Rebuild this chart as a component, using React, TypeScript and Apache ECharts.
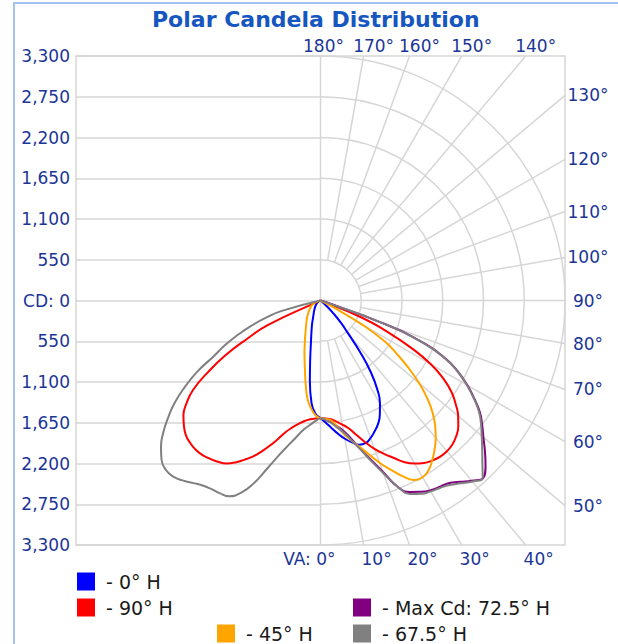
import React, { useEffect, useRef } from 'react';
import * as echarts from 'echarts';

// Vertical angles (degrees from nadir)
const VA = [0, 2.5, 5, 7.5, 10, 12.5, 15, 17.5, 20, 22.5, 25, 27.5, 30, 32.5, 35, 37.5, 40, 42.5, 45, 47.5, 50, 52.5, 55, 57.5, 60, 62.5, 65, 67.5, 70, 72.5, 75, 77.5, 80, 82.5, 85, 87.5, 90];

// Candela values per horizontal plane (right half = H, left half = H + 180)
const H0 = [1590, 1650, 1730, 1815, 1895, 1960, 2015, 2020, 1975, 1910, 1838, 1735, 1605, 1430, 1190, 880, 580, 410, 245, 110, 0, 0, 0, 0, 0, 0, 0, 0, 0, 0, 0, 0, 0, 0, 0, 0, 0];
const H180 = [1590, 1530, 1390, 1100, 800, 600, 480, 395, 330, 270, 230, 200, 178, 158, 140, 125, 112, 100, 90, 80, 70, 62, 55, 48, 40, 34, 28, 22, 16, 10, 5, 0, 0, 0, 0, 0, 0];
const H90 = [1590, 1595, 1610, 1650, 1700, 1770, 1880, 2005, 2130, 2240, 2345, 2460, 2540, 2600, 2635, 2655, 2655, 2635, 2590, 2522, 2425, 2300, 2160, 1970, 1720, 1370, 980, 600, 60, 0, 0, 0, 0, 0, 0, 0, 0];
const H270 = [1590, 1595, 1610, 1640, 1690, 1755, 1845, 1980, 2115, 2250, 2360, 2460, 2540, 2580, 2605, 2625, 2625, 2605, 2570, 2500, 2415, 2280, 2095, 1800, 1490, 1110, 780, 40, 0, 0, 0, 0, 0, 0, 0, 0, 0];
const H72_5 = [1590, 1615, 1650, 1710, 1790, 1910, 2070, 2250, 2460, 2720, 2850, 2910, 2960, 2985, 3010, 3085, 3175, 3250, 3150, 3010, 2870, 2750, 2625, 2460, 2290, 2100, 1870, 1530, 900, 70, 0, 0, 0, 0, 0, 0, 0];
const H45 = [1590, 1600, 1625, 1710, 1830, 1940, 2045, 2180, 2330, 2470, 2615, 2730, 2755, 2715, 2630, 2530, 2420, 2290, 2140, 1955, 1740, 1500, 1260, 1030, 650, 180, 0, 0, 0, 0, 0, 0, 0, 0, 0, 0, 0];
const H225 = [1590, 1550, 1460, 1340, 1150, 970, 830, 720, 620, 545, 480, 430, 390, 355, 325, 300, 275, 250, 230, 212, 195, 180, 165, 155, 145, 125, 105, 85, 65, 45, 28, 12, 0, 0, 0, 0, 0];
const H67_5 = [1590, 1615, 1660, 1730, 1810, 1930, 2080, 2270, 2480, 2720, 2880, 2940, 2975, 3000, 3040, 3110, 3190, 3240, 3090, 2960, 2840, 2730, 2610, 2450, 2280, 2090, 1860, 1510, 880, 60, 0, 0, 0, 0, 0, 0, 0];
const H247_5 = [1590, 1630, 1690, 1760, 1870, 2000, 2160, 2370, 2620, 2810, 2915, 2935, 2940, 2960, 3005, 3060, 3100, 3095, 3035, 2920, 2770, 2590, 2400, 2170, 1920, 1620, 1420, 1200, 990, 770, 540, 0, 0, 0, 0, 0, 0];

// Grid definitions
const R_MAX = 3300;
const RINGS = [550, 1100, 1650, 2200, 2750, 3300];
const SPOKES = [0, 10, 20, 30, 40, 50, 60, 70, 80, 90, 100, 110, 120, 130, 140, 150, 160, 170, 180];

const FONT = 'DejaVu Sans';
const LABEL_COLOR = '#1b3597';
const GRID_COLOR = '#d6d6d6';

function toXY(cd: number, va: number, side: number): number[] {
  const a = (va * Math.PI) / 180;
  return [side * cd * Math.sin(a), -cd * Math.cos(a)];
}

function loop(right: number[], left: number[] | null): number[][] {
  const pts: number[][] = [];
  let lr = right.findIndex((v) => v === 0);
  if (lr < 0) lr = right.length - 1;
  for (let i = lr; i >= 0; i--) pts.push(toXY(right[i], VA[i], 1));
  if (left) {
    let ll = left.findIndex((v) => v === 0);
    if (ll < 0) ll = left.length - 1;
    for (let i = 1; i <= ll; i++) pts.push(toXY(left[i], VA[i], -1));
  }
  return pts;
}

const SERIES = [
  { name: '0° H', color: '#0000ff', right: H0, left: H180 },
  { name: '90° H', color: '#ff0000', right: H90, left: H270 },
  { name: 'Max Cd: 72.5° H', color: '#800080', right: H72_5, left: null },
  { name: '45° H', color: '#ffa500', right: H45, left: H225 },
  { name: '67.5° H', color: '#808080', right: H67_5, left: H247_5 },
];

const LEGEND_POS = [
  { left: 77, top: 572 },
  { left: 77, top: 598 },
  { left: 353, top: 598 },
  { left: 217, top: 624 },
  { left: 353, top: 624 },
];

export default function App() {
  const ref = useRef<HTMLDivElement>(null);
  useEffect(() => {
    if (!ref.current) return;
    const chart = echarts.init(ref.current, undefined, { renderer: 'svg' });

    const spokeSeries: any = {
      type: 'custom',
      xAxisIndex: 0,
      yAxisIndex: 0,
      silent: true,
      z: 1,
      data: SPOKES.map((v) => [v]),
      renderItem: (_p: any, api: any) => {
        const va = api.value(0);
        const a = (va * Math.PI) / 180;
        const dx = Math.sin(a);
        const dy = -Math.cos(a);
        const r0 = va % 90 === 0 ? 0 : RINGS[0];
        const tx = Math.abs(dx) > 1e-9 ? R_MAX / Math.abs(dx) : Infinity;
        const ty = Math.abs(dy) > 1e-9 ? R_MAX / Math.abs(dy) : Infinity;
        const t = Math.min(tx, ty);
        const p0 = api.coord([r0 * dx, r0 * dy]);
        const p1 = api.coord([t * dx, t * dy]);
        let lx = p1[0];
        let ly = p1[1];
        let align = 'center';
        let text = va + '°';
        if (va < 45) {
          ly += 14;
          if (va === 0) {
            text = 'VA: 0°';
            lx += 15;
            align = 'right';
          } else {
            lx += 13;
          }
        } else if (va > 135) {
          ly -= 10;
          lx += va === 180 ? 3 : 10;
        } else {
          lx += 23;
        }
        return {
          type: 'group',
          children: [
            {
              type: 'line',
              shape: { x1: p0[0], y1: p0[1], x2: p1[0], y2: p1[1] },
              style: { stroke: GRID_COLOR, lineWidth: 1.5 },
            },
            {
              type: 'text',
              x: lx,
              y: ly,
              style: {
                text,
                fill: LABEL_COLOR,
                fontSize: 17,
                fontFamily: FONT,
                align,
                verticalAlign: 'middle',
              },
            },
          ],
        };
      },
    };

    const ringSeries: any = {
      type: 'custom',
      xAxisIndex: 0,
      yAxisIndex: 0,
      silent: true,
      z: 1,
      data: RINGS.map((v) => [v]),
      renderItem: (_p: any, api: any) => {
        const r = api.value(0);
        const c = api.coord([0, 0]);
        const rp = api.size([r, 0])[0];
        return {
          type: 'arc',
          shape: { cx: c[0], cy: c[1], r: rp, startAngle: -Math.PI / 2, endAngle: Math.PI / 2, clockwise: true },
          style: { stroke: GRID_COLOR, lineWidth: 1.5, fill: 'none' },
        };
      },
    };

    const lineSeries = SERIES.map((s) => ({
      type: 'line',
      name: s.name,
      xAxisIndex: 0,
      yAxisIndex: 0,
      data: loop(s.right, s.left),
      showSymbol: false,
      smooth: 0.5,
      z: 3,
      lineStyle: { color: s.color, width: 2 },
      itemStyle: { color: s.color },
    }));

    const option: any = {
      animation: false,
      title: {
        text: 'Polar Candela Distribution',
        left: 152,
        top: 8,
        padding: 0,
        textStyle: { fontFamily: FONT, fontSize: 22, fontWeight: 'bold', color: '#1556c0' },
      },
      legend: SERIES.map((s, i) => ({
        data: [s.name],
        left: LEGEND_POS[i].left,
        top: LEGEND_POS[i].top,
        padding: 0,
        icon: 'rect',
        itemWidth: 18,
        itemHeight: 18,
        selectedMode: false,
        formatter: '- {name}',
        textStyle: { fontFamily: FONT, fontSize: 19, color: '#1a1a1a', padding: [0, 0, 0, 6] },
      })),
      graphic: [
        {
          type: 'rect',
          shape: { x: 14, y: 3, width: 640, height: 680 },
          style: { fill: 'none', stroke: '#a3c2f2', lineWidth: 2 },
          silent: true,
        },
      ],
      grid: [
        { left: 76, top: 56, width: 489, height: 489, show: true, borderColor: GRID_COLOR, borderWidth: 1.5, backgroundColor: 'transparent' },
        { left: 76, top: 56, width: 244.5, height: 489, show: false },
      ],
      xAxis: [
        { type: 'value', gridIndex: 0, min: -R_MAX, max: R_MAX, show: false },
        { type: 'value', gridIndex: 1, min: -R_MAX, max: 0, show: false },
      ],
      yAxis: [
        { type: 'value', gridIndex: 0, min: -R_MAX, max: R_MAX, show: false },
        {
          type: 'value',
          gridIndex: 1,
          min: -R_MAX,
          max: R_MAX,
          interval: 550,
          axisLine: { show: false },
          axisTick: { show: false },
          splitLine: { show: true, lineStyle: { color: GRID_COLOR, width: 1.5 } },
          axisLabel: {
            margin: 6,
            color: LABEL_COLOR,
            fontSize: 17,
            fontFamily: FONT,
            formatter: (v: number) => (v === 0 ? 'CD: 0' : Math.abs(v).toLocaleString('en-US')),
          },
        },
      ],
      series: [ringSeries, spokeSeries, ...lineSeries],
    };
    chart.setOption(option);
    return () => chart.dispose();
  }, []);

  return (
    <div
      ref={ref}
      style={{ position: 'fixed', left: 0, top: 0, width: 618, height: 644, background: '#fff' }}
    />
  );
}
